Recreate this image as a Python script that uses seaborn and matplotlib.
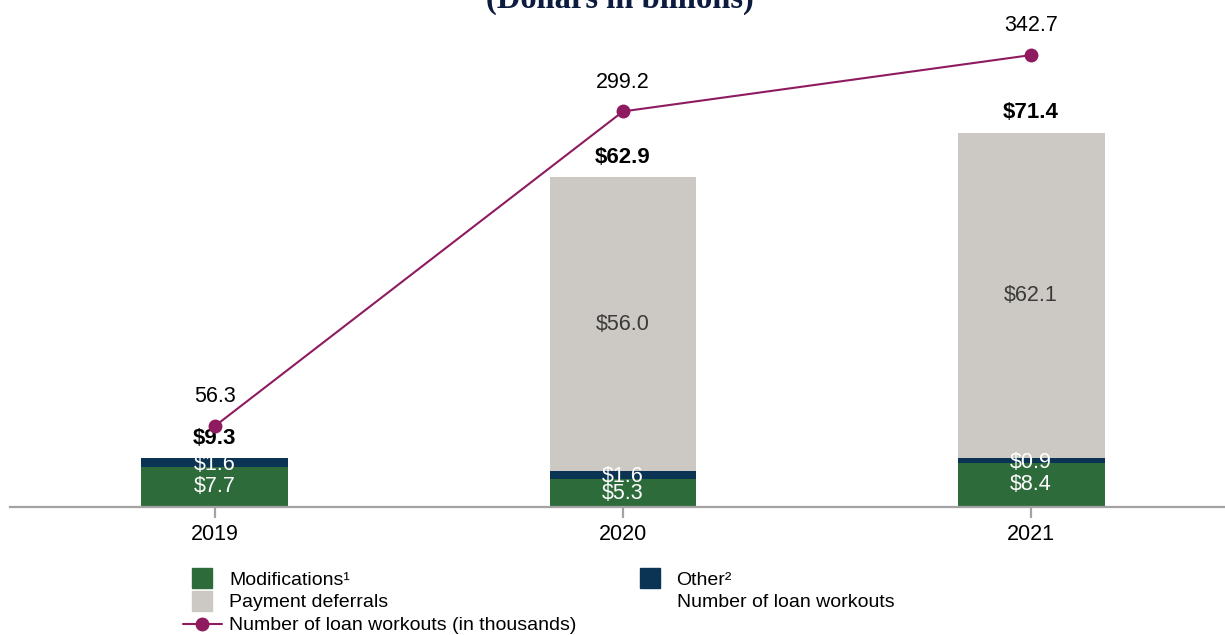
import pandas as pd
import numpy as np
import seaborn as sns
from matplotlib import pyplot as plt
from matplotlib.lines import Line2D

years = ['2019', '2020', '2021']
modifications = [7.7, 5.3, 8.4]
other = [1.6, 1.6, 0.9]
deferrals = [0.0, 56.0, 62.1]
workouts = [56.3, 299.2, 342.7]

green = '#2e6b3b'
navy = '#0b3454'
grey = '#ccc9c4'
plum = '#8e1b5f'

sns.set_style('white')
plt.rcParams['font.family'] = ['Liberation Sans', 'DejaVu Sans']
plt.rcParams['text.color'] = 'black'
plt.rcParams['xtick.color'] = 'black'

df = pd.DataFrame({'year': years, 'mod': modifications, 'oth': other, 'pay': deferrals})
df['mod_oth'] = df['mod'] + df['oth']
df['total'] = df['mod_oth'] + df['pay']

fig = plt.figure(figsize=(12.25, 6.35), dpi=100)
ax = fig.add_axes([10/1225, (635-507)/635, (1225-10)/1225, (507-40)/635])

# stacked bars by layering cumulative sums
sns.barplot(data=df, x='year', y='total', color=grey, width=0.36, saturation=1, linewidth=0, ax=ax)
sns.barplot(data=df, x='year', y='mod_oth', color=navy, width=0.36, saturation=1, linewidth=0, ax=ax)
sns.barplot(data=df, x='year', y='mod', color=green, width=0.36, saturation=1, linewidth=0, ax=ax)

ax.set_ylim(0, 467/5.24)
ax.set_xlim(-0.502, 2.475)
ax.set_xlabel('')
ax.set_ylabel('')
ax.set_yticks([])
for s in ['top', 'left', 'right']:
    ax.spines[s].set_visible(False)
ax.spines['bottom'].set_color('#a3a3a3')
ax.spines['bottom'].set_linewidth(1.6)
ax.tick_params(axis='x', bottom=True, length=8, width=1.6, color='#a3a3a3',
               labelsize=15.5, labelcolor='black', pad=4)

for i, r in df.iterrows():
    ax.text(i, r['mod']/2, f"${r['mod']:.1f}", ha='center', va='center',
            color='white', fontsize=15.5)
    ax.text(i, r['mod'] + r['oth']/2 - 0.3, f"${r['oth']:.1f}", ha='center', va='center',
            color='white', fontsize=15.5)
    if r['pay'] > 0:
        ax.text(i, r['mod_oth'] + r['pay']/2, f"${r['pay']:.1f}", ha='center',
                va='center', color='#3a3a3a', fontsize=15.5)
    ax.annotate(f"${r['total']:.1f}", (i, r['total']), xytext=(0, 14.5),
                textcoords='offset points', ha='center', va='center',
                fontsize=16, fontweight='bold', color='black')

# loan workouts line on its own scale
ax2 = ax.twinx()
sns.lineplot(x=[0, 1, 2], y=workouts, color=plum, lw=1.5, marker='o',
             markersize=10, markeredgewidth=0, ax=ax2)
ax2.set_ylim(-8/1.2954, (499-40)/1.2954)
ax2.set_yticks([])
for s in ax2.spines.values():
    s.set_visible(False)
for i, w in enumerate(workouts):
    ax2.annotate(f'{w:.1f}', (i, w), xytext=(0, 21), textcoords='offset points',
                 ha='center', va='center', fontsize=15.5, color='black')

fig.text(0.506, 1 - 8/635, '(Dollars in billions)', ha='center', va='baseline',
         fontsize=23.5, fontweight='bold', family='Liberation Serif', color='#0d1b3e')

handles = [
    Line2D([], [], ls='none', marker='s', markersize=14.5, color=green),
    Line2D([], [], ls='none', marker='s', markersize=14.5, color=grey),
    Line2D([], [], color=plum, lw=1.5, marker='o', markersize=10, markeredgewidth=0),
    Line2D([], [], ls='none', marker='s', markersize=14.5, color=navy),
    Line2D([], [], ls='none', alpha=0),
]
labels = ['Modifications¹', 'Payment deferrals', 'Number of loan workouts (in thousands)',
          'Other²', 'Number of loan workouts']
fig.legend(handles, labels, ncol=2, loc='upper left',
           bbox_to_anchor=(183/1225, 1 - 571/635), frameon=False, fontsize=14,
           handlelength=2, handletextpad=0.36, labelspacing=0.27,
           columnspacing=2.8, borderpad=0, borderaxespad=0)

fig.savefig('out.png', dpi=100)
